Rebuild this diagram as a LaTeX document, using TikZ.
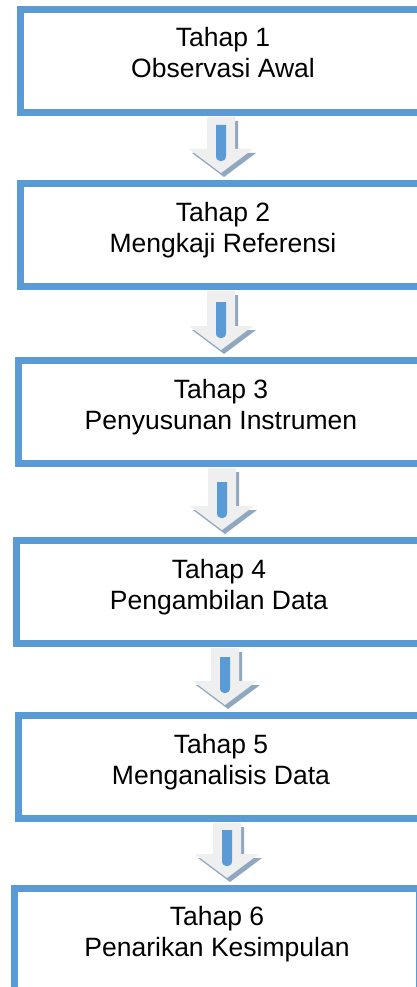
\documentclass[tikz,border=0pt]{standalone}
\usepackage{fontspec}
\setmainfont{Liberation Sans}
\usetikzlibrary{calc}
\definecolor{boxblue}{HTML}{5B9BD5}
\definecolor{arrowlight}{HTML}{EFEFEF}
\definecolor{arrowshadow}{HTML}{8FA7BF}
\tikzset{
  stagebox/.style={draw=boxblue, line width=7pt, minimum width=405pt, minimum height=103pt, inner sep=0pt},
  stagetext/.style={anchor=base, inner sep=0pt, font=\fontsize{26.5pt}{31pt}\selectfont},
}
% #1 upper box, #2 lower box, #3 x offset of arrow from lower box centre
\newcommand\blockarrow[3]{%
  \coordinate (T#1) at ($(#1.south -| #2.north)+(#3pt,-1pt)$);
  \coordinate (B#1) at ($(#2.north)+(#3pt,0pt)$);
  \foreach \col/\off in {arrowshadow/{3pt,-4pt}, arrowlight/{0pt,0pt}}{
    \fill[\col] ($(T#1)+(\off)+(-14pt,0pt)$) -- ($(T#1)+(\off)+(14pt,0pt)$)
      -- ($(B#1)+(\off)+(14pt,31pt)$) -- ($(B#1)+(\off)+(32pt,31pt)$)
      -- ($(B#1)+(\off)+(0pt,7pt)$) -- ($(B#1)+(\off)+(-32pt,31pt)$)
      -- ($(B#1)+(\off)+(-14pt,31pt)$) -- cycle;
  }
  \fill[boxblue] ($(B#1)+(-5pt,55pt)$) -- ($(B#1)+(-5pt,24pt)$)
    .. controls ($(B#1)+(-5pt,17pt)$) and ($(B#1)+(5pt,17pt)$) .. ($(B#1)+(5pt,24pt)$)
    -- ($(B#1)+(5pt,55pt)$) -- cycle;
}
\begin{document}
\begin{tikzpicture}[x=1pt,y=-1pt]
\useasboundingbox (0,0) rectangle (416,987);
\fill[white] (0,0) rectangle (416,987);

\node[stagebox] (b1) at (223,61) {};
\node[stagebox] (b2) at (223,235) {};
\node[stagebox] (b3) at (221,412) {};
\node[stagebox] (b4) at (219,592) {};
\node[stagebox] (b5) at (221,767) {};
\node[stagebox] (b6) at (217,940) {};

\node[stagetext] (t1a) at ([yshift=-41pt]b1.north) {Tahap 1};
\node[stagetext] (t1b) at ([yshift=-72pt]b1.north) {Observasi Awal};
\node[stagetext] (t2a) at ([yshift=-41pt]b2.north) {Tahap 2};
\node[stagetext] (t2b) at ([yshift=-72pt]b2.north) {Mengkaji Referensi};
\node[stagetext] (t3a) at ([yshift=-41pt]b3.north) {Tahap 3};
\node[stagetext] (t3b) at ([yshift=-72pt]b3.north) {Penyusunan Instrumen};
\node[stagetext] (t4a) at ([yshift=-41pt]b4.north) {Tahap 4};
\node[stagetext] (t4b) at ([yshift=-72pt]b4.north) {Pengambilan Data};
\node[stagetext] (t5a) at ([yshift=-41pt]b5.north) {Tahap 5};
\node[stagetext] (t5b) at ([yshift=-72pt]b5.north) {Menganalisis Data};
\node[stagetext] (t6a) at ([yshift=-40pt]b6.north) {Tahap 6};
\node[stagetext] (t6b) at ([yshift=-71pt]b6.north) {Penarikan Kesimpulan};

\blockarrow{b1}{b2}{-2}
\blockarrow{b2}{b3}{0}
\blockarrow{b3}{b4}{3}
\blockarrow{b4}{b5}{4}
\blockarrow{b5}{b6}{10}
\end{tikzpicture}
\end{document}
